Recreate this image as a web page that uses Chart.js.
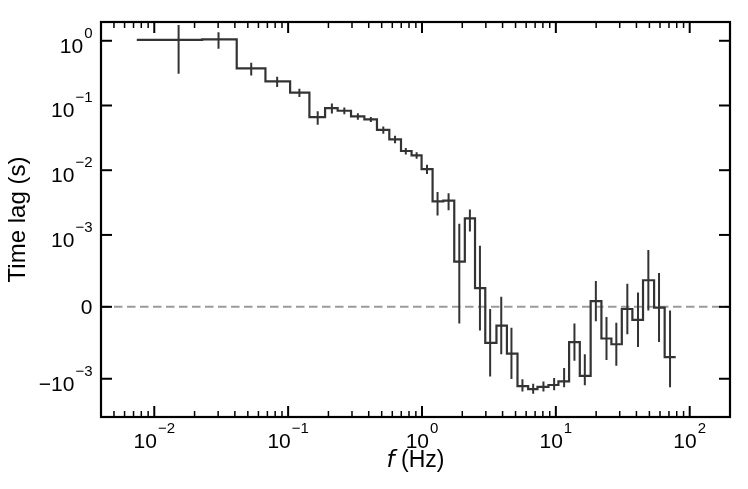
<!DOCTYPE html>
<html>
<head>
<meta charset="utf-8">
<script src="https://cdn.jsdelivr.net/npm/chart.js@4.4.0/dist/chart.umd.min.js"></script>
<style>
  html, body { margin: 0; padding: 0; background: #fff; }
  canvas { display: block; }
</style>
</head>
<body>
<canvas id="lagChart" width="748" height="489"></canvas>
<script>
// Frequency bin edges (Hz)
const binEdges = [0.0074, 0.0228, 0.0413, 0.0677, 0.1035, 0.1442, 0.1888, 0.2344, 0.295, 0.371,
    0.461, 0.570, 0.697, 0.836, 0.993, 1.20, 1.442, 1.742, 2.09, 2.49,
    2.97, 3.60, 4.31, 5.17, 6.21, 7.29, 8.81, 10.45, 12.56, 15.1,
    18.2, 21.9, 26.0, 31.1, 37.3, 44.8, 54.2, 65.0, 78.6];
// Frequency where each bin's error bar sits (Hz)
const binFreq = [0.0152, 0.0302, 0.0530, 0.0828, 0.1214, 0.1663, 0.2123, 0.263, 0.332, 0.415,
    0.514, 0.629, 0.757, 0.912, 1.090, 1.307, 1.58, 1.90, 2.28, 2.71,
    3.23, 3.91, 4.66, 5.63, 6.77, 8.08, 9.71, 11.53, 13.77, 16.46,
    19.9, 23.9, 28.3, 34.2, 41.1, 49.1, 59.0, 71.3];
// Time lag (s) and 1-sigma error per bin
const lag = [1.03, 1.05, 0.375, 0.235, 0.158, 0.066, 0.091, 0.083, 0.068, 0.061,
    0.042, 0.030, 0.0198, 0.017, 0.0104, 0.0033, 0.0034, 0.00063, 0.0018, 0.00026,
    -0.0005, -0.00026, -0.00065, -0.0013, -0.00145, -0.00134, -0.00125, -0.0011, -0.00049, -0.00096,
    0.00008, -0.00044, -0.00052, -0.00003, -0.00018, 0.00037, -0.00001, -0.0007];
const lagErr = [0.72, 0.30, 0.084, 0.042, 0.023, 0.0155, 0.016, 0.0097, 0.008, 0.0055,
    0.0055, 0.004, 0.0023, 0.002, 0.0017, 0.0013, 0.001, 0.00086, 0.00067, 0.00059,
    0.00047, 0.0004, 0.00036, 0.00028, 0.00025, 0.00024, 0.00026, 0.00025, 0.00026, 0.0003,
    0.00028, 0.0003, 0.0003, 0.00035, 0.00038, 0.00042, 0.00048, 0.00065];

// Axes
const xMin = 0.004, xMax = 200;
const yMin = -0.0039, yMax = 1.95;
const xTicks = [1e-2, 1e-1, 1, 10, 100];
const xTickExp = ['\u22122', '\u22121', '0', '1', '2'];
const yTicks = [1, 1e-1, 1e-2, 1e-3, 0, -1e-3];
const yTickBase = ['10', '10', '10', '10', '0', '\u221210'];
const yTickExp = ['0', '\u22121', '\u22122', '\u22123', '', '\u22123'];

const LINE_COLOR = '#333333';
const TICK_FONT = '21px "Liberation Sans", Arial, sans-serif';
const EXP_FONT = '15px "Liberation Sans", Arial, sans-serif';

// matplotlib-style symlog, linthresh 1e-3, linscale 1
const LINTHRESH = 1e-3;
const LINSCALE = 1 / (1 - 1 / 10);
function symlog(v) {
    const a = Math.abs(v);
    if (a <= LINTHRESH) return v / LINTHRESH * LINSCALE;
    return Math.sign(v) * (LINSCALE + Math.log10(a / LINTHRESH));
}
function symexp(t) {
    const a = Math.abs(t);
    if (a <= LINSCALE) return t / LINSCALE * LINTHRESH;
    return Math.sign(t) * LINTHRESH * Math.pow(10, a - LINSCALE);
}

class SymlogScale extends Chart.LinearScale {
    static id = 'symlog';
    buildTicks() {
        return yTicks.map(v => ({ value: v }));
    }
    configure() {
        super.configure();
        this._tStart = symlog(this.min);
        this._tRange = symlog(this.max) - this._tStart;
    }
    getPixelForValue(value) {
        if (value === null || isNaN(value)) return NaN;
        return this.getPixelForDecimal((symlog(value) - this._tStart) / this._tRange);
    }
    getValueForPixel(pixel) {
        return symexp(this._tStart + this.getDecimalForPixel(pixel) * this._tRange);
    }
}
Chart.register(SymlogScale);

// minor log ticks on the frequency axis
const xMinor = [];
for (let k = -3; k <= 2; k++) {
    for (let m = 2; m <= 9; m++) {
        const v = m * Math.pow(10, k);
        if (v > xMin && v < xMax) xMinor.push(v);
    }
}

function drawPower(ctx, base, exp, x, baseY, align) {
    ctx.font = TICK_FONT;
    const wb = ctx.measureText(base).width;
    ctx.font = EXP_FONT;
    const we = exp ? ctx.measureText(exp).width + 1 : 0;
    const total = wb + we;
    const left = align === 'center' ? x - total / 2 : x - total;
    ctx.textAlign = 'left';
    ctx.textBaseline = 'alphabetic';
    ctx.font = TICK_FONT;
    ctx.fillText(base, left, baseY);
    if (exp) {
        ctx.font = EXP_FONT;
        ctx.fillText(exp, left + wb + 1, baseY - 15);
    }
}

// Frame, inward ticks and labels
const axesFrame = {
    id: 'axesFrame',
    afterDatasetsDraw(chart) {
        const { ctx, chartArea: a, scales: { x, y } } = chart;
        const seg = (x1, y1, x2, y2) => {
            ctx.beginPath();
            ctx.moveTo(x1, y1);
            ctx.lineTo(x2, y2);
            ctx.stroke();
        };
        ctx.save();
        ctx.strokeStyle = '#000';
        ctx.fillStyle = '#000';

        ctx.lineWidth = 1.5;
        xMinor.forEach(v => {
            const px = x.getPixelForValue(v);
            seg(px, a.bottom, px, a.bottom - 6);
            seg(px, a.top, px, a.top + 6);
        });
        ctx.lineWidth = 2;
        xTicks.forEach(v => {
            const px = x.getPixelForValue(v);
            seg(px, a.bottom, px, a.bottom - 11);
            seg(px, a.top, px, a.top + 11);
        });
        yTicks.forEach(v => {
            const py = y.getPixelForValue(v);
            seg(a.left, py, a.left + 11, py);
            seg(a.right, py, a.right - 11, py);
        });

        ctx.lineWidth = 2.2;
        ctx.strokeRect(a.left, a.top, a.right - a.left, a.bottom - a.top);

        xTicks.forEach((v, i) => {
            drawPower(ctx, '10', xTickExp[i], x.getPixelForValue(v), a.bottom + 30.5, 'center');
        });
        yTicks.forEach((v, i) => {
            const py = y.getPixelForValue(v);
            const off = yTickExp[i] ? 12 : 7.5;
            drawPower(ctx, yTickBase[i], yTickExp[i], a.left - 8.5, py + off, 'right');
        });

        // y title
        ctx.save();
        ctx.translate(25, (a.top + a.bottom) / 2);
        ctx.rotate(-Math.PI / 2);
        ctx.font = '24px "Liberation Sans", Arial, sans-serif';
        ctx.textAlign = 'center';
        ctx.textBaseline = 'alphabetic';
        ctx.fillText('Time lag (s)', 0, 0);
        ctx.restore();

        // x title: italic f then (Hz)
        const fFont = 'italic 23px "DejaVu Sans", sans-serif';
        const hFont = '23px "Liberation Sans", Arial, sans-serif';
        ctx.font = fFont;
        const wf = ctx.measureText('f').width;
        ctx.font = hFont;
        const wh = ctx.measureText(' (Hz)').width;
        const start = (a.left + a.right) / 2 - (wf + wh) / 2;
        ctx.textAlign = 'left';
        ctx.font = fFont;
        ctx.fillText('f', start, 467);
        ctx.font = hFont;
        ctx.fillText(' (Hz)', start + wf, 467);
        ctx.restore();
    }
};

const stepData = binEdges.map((f, i) => ({ x: f, y: lag[Math.min(i, lag.length - 1)] }));
const errData = binFreq.flatMap((f, i) => [
    { x: f, y: lag[i] - lagErr[i] },
    { x: f, y: lag[i] + lagErr[i] },
    { x: f, y: null }
]);

new Chart(document.getElementById('lagChart'), {
    type: 'line',
    data: {
        datasets: [{
            label: 'Time lag',
            data: stepData,
            stepped: true,
            borderColor: LINE_COLOR,
            borderWidth: 2.2,
            pointRadius: 0,
            fill: false
        }, {
            label: 'Error',
            data: errData,
            borderColor: LINE_COLOR,
            borderWidth: 2,
            pointRadius: 0,
            spanGaps: false,
            fill: false
        }, {
            label: 'Zero',
            data: [{ x: xMin, y: 0 }, { x: xMax, y: 0 }],
            borderColor: '#9a9a9a',
            borderWidth: 2,
            borderDash: [8.5, 4.5],
            pointRadius: 0,
            fill: false
        }]
    },
    options: {
        responsive: false,
        animation: false,
        events: [],
        layout: {
            padding: { left: 101, right: 18, top: 22, bottom: 72 }
        },
        plugins: {
            legend: { display: false },
            tooltip: { enabled: false }
        },
        scales: {
            x: { type: 'logarithmic', min: xMin, max: xMax, bounds: 'data', display: false },
            y: { type: 'symlog', min: yMin, max: yMax, bounds: 'data', display: false }
        }
    },
    plugins: [axesFrame]
});
</script>
</body>
</html>
